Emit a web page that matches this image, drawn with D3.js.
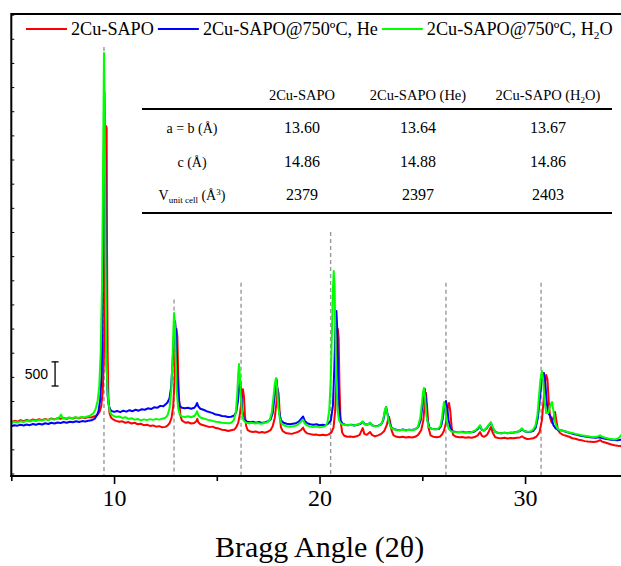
<!DOCTYPE html>
<html>
<head>
<meta charset="utf-8">
<script src="https://cdn.jsdelivr.net/npm/d3@7"></script>
<style>
  html, body { margin: 0; padding: 0; background: #fff; overflow: hidden; }
  svg { display: block; }
</style>
</head>
<body>
<svg id="chart" width="621" height="566"></svg>
<script>
// XRD patterns: [2θ (deg), intensity (counts)]
const seriesNames = ["2Cu-SAPO", "2Cu-SAPO@750ºC, He", "2Cu-SAPO@750ºC, H2O"];
const seriesColors = ["#ff0000", "#0000ff", "#00ff00"];

const redPattern = [
[5.00,1066],[5.15,1090],[5.3,1075],[5.45,1105],[5.6,1085],[5.75,1110],[5.9,1090],[6.05,1120],[6.2,1100],[6.35,1125],[6.5,1105],[6.65,1130],[6.8,1110],[6.95,1140],[7.1,1120],[7.25,1145],[7.4,1135],[7.55,1150],[7.7,1130],[7.85,1155],[8.0,1140],[8.15,1160],[8.3,1140],[8.45,1165],[8.6,1145],[8.75,1170],[8.9,1160],[9.05,1185],[9.2,1220],[9.3,1280],[9.38,1400],[9.45,1700],[9.5,2300],[9.55,3600],[9.58,5200],[9.61,7193],[9.64,7150],[9.66,4500],[9.69,2400],[9.73,1500],[9.78,1250],[9.85,1160],[9.95,1120],[10.1,1090],[10.25,1070],[10.4,1080],[10.55,1050],[10.7,1065],[10.85,1035],[11.0,1050],[11.15,1020],[11.3,1030],[11.45,1000],[11.6,1010],[11.75,985],[11.9,995],[12.05,970],[12.2,980],[12.35,955],[12.5,965],[12.6,990],[12.7,1040],[12.8,1150],[12.88,1400],[12.94,1900],[12.99,2600],[13.04,2991],[13.08,2850],[13.12,2100],[13.17,1500],[13.23,1200],[13.3,1100],[13.4,1070],[13.5,1050],[13.6,1060],[13.75,1035],[13.9,1045],[14.0,1080],[14.05,1130],[14.1,1060],[14.2,1020],[14.35,1000],[14.5,980],[14.65,960],[14.8,970],[14.95,940],[15.1,930],[15.25,905],[15.4,900],[15.55,880],[15.7,895],[15.85,910],[15.95,960],[16.05,1060],[16.13,1250],[16.2,1500],[16.27,1745],[16.32,1600],[16.37,1200],[16.43,980],[16.5,900],[16.6,875],[16.75,860],[16.9,870],[17.05,845],[17.2,860],[17.35,845],[17.5,870],[17.62,900],[17.72,980],[17.82,1150],[17.9,1450],[17.96,1749],[18.01,1650],[18.06,1250],[18.12,960],[18.2,880],[18.35,840],[18.5,830],[18.65,820],[18.8,840],[18.95,860],[19.1,900],[19.2,950],[19.27,880],[19.4,830],[19.55,815],[19.7,800],[19.85,805],[20.0,790],[20.15,800],[20.3,790],[20.45,810],[20.58,850],[20.68,950],[20.76,1300],[20.82,2000],[20.86,2700],[20.89,2991],[20.93,2800],[20.97,1800],[21.02,1100],[21.1,850],[21.2,780],[21.35,760],[21.5,765],[21.65,755],[21.8,770],[21.95,800],[22.1,940],[22.18,820],[22.3,800],[22.46,860],[22.55,800],[22.7,770],[22.85,790],[23.0,820],[23.15,880],[23.27,1000],[23.34,1130],[23.38,1170],[23.43,1080],[23.5,900],[23.6,790],[23.75,760],[23.9,750],[24.05,760],[24.2,745],[24.35,755],[24.5,745],[24.65,760],[24.8,800],[24.95,900],[25.05,1100],[25.12,1450],[25.18,1666],[25.23,1400],[25.3,950],[25.4,790],[25.55,760],[25.7,750],[25.85,760],[25.95,800],[26.05,880],[26.15,1050],[26.23,1350],[26.3,1459],[26.36,1300],[26.43,950],[26.5,800],[26.65,760],[26.8,750],[26.95,755],[27.1,740],[27.25,750],[27.4,740],[27.55,755],[27.7,790],[27.81,859],[27.9,780],[28.0,760],[28.15,800],[28.25,880],[28.34,963],[28.42,850],[28.55,750],[28.7,735],[28.85,730],[29.0,740],[29.15,725],[29.3,735],[29.45,730],[29.6,740],[29.75,745],[29.85,770],[29.95,740],[30.1,715],[30.25,720],[30.4,730],[30.55,760],[30.7,850],[30.82,1100],[30.9,1500],[30.97,1900],[31.03,2039],[31.09,1950],[31.15,1500],[31.22,1150],[31.3,1050],[31.38,1150],[31.46,1273],[31.52,1100],[31.6,900],[31.7,838],[31.85,800],[32.0,780],[32.15,760],[32.3,730],[32.45,720],[32.6,700],[32.75,690],[32.9,670],[33.05,660],[33.2,655],[33.35,650],[33.5,660],[33.65,693],[33.75,660],[33.9,640],[34.05,620],[34.2,600],[34.35,585],[34.5,575],[34.65,570],[34.8,580],[35.0,590]
];

const bluePattern = [
[5.0,983],[5.15,1000],[5.3,990],[5.45,1010],[5.6,995],[5.75,1015],[5.9,1000],[6.05,1025],[6.2,1010],[6.35,1030],[6.5,1015],[6.65,1040],[6.8,1025],[6.95,1050],[7.1,1035],[7.25,1055],[7.4,1045],[7.55,1065],[7.7,1050],[7.85,1070],[8.0,1060],[8.15,1080],[8.3,1065],[8.45,1085],[8.6,1075],[8.75,1090],[8.9,1100],[9.05,1130],[9.15,1190],[9.25,1300],[9.33,1550],[9.4,2100],[9.45,3500],[9.49,6000],[9.53,7900],[9.57,6500],[9.6,4000],[9.64,2200],[9.69,1600],[9.75,1400],[9.82,1320],[9.9,1290],[10.0,1275],[10.15,1295],[10.3,1270],[10.45,1300],[10.6,1280],[10.75,1310],[10.9,1290],[11.05,1320],[11.2,1300],[11.35,1330],[11.5,1320],[11.65,1350],[11.8,1335],[11.95,1370],[12.1,1360],[12.25,1400],[12.4,1390],[12.5,1430],[12.6,1470],[12.7,1560],[12.78,1800],[12.85,2300],[12.92,2900],[12.97,3150],[13.02,2900],[13.07,2200],[13.13,1600],[13.2,1400],[13.3,1360],[13.45,1350],[13.6,1360],[13.75,1340],[13.9,1360],[13.98,1400],[14.04,1460],[14.1,1390],[14.2,1340],[14.35,1320],[14.5,1290],[14.65,1270],[14.8,1250],[14.95,1220],[15.1,1210],[15.25,1190],[15.4,1185],[15.55,1170],[15.7,1175],[15.85,1200],[15.95,1280],[16.03,1500],[16.09,1800],[16.13,1935],[16.18,1700],[16.24,1300],[16.32,1120],[16.45,1075],[16.6,1060],[16.75,1070],[16.9,1050],[17.05,1065],[17.2,1045],[17.35,1060],[17.5,1080],[17.62,1120],[17.72,1250],[17.8,1550],[17.86,1850],[17.91,1950],[17.96,1700],[18.03,1300],[18.12,1100],[18.25,1050],[18.4,1030],[18.55,1020],[18.7,1030],[18.85,1040],[19.0,1080],[19.12,1140],[19.2,1180],[19.28,1090],[19.4,1040],[19.55,1020],[19.7,1010],[19.85,1020],[20.0,1000],[20.15,1010],[20.3,1000],[20.42,1030],[20.55,1100],[20.65,1400],[20.72,2200],[20.77,3000],[20.82,3364],[20.86,3000],[20.9,2100],[20.95,1400],[21.02,1100],[21.12,1030],[21.25,1010],[21.4,1000],[21.55,1010],[21.7,995],[21.85,1010],[22.0,1030],[22.11,1070],[22.2,1020],[22.35,1015],[22.46,1050],[22.55,1000],[22.7,980],[22.85,990],[23.0,1020],[23.1,1100],[23.18,1280],[23.24,1377],[23.3,1250],[23.38,1100],[23.48,960],[23.6,920],[23.75,905],[23.9,895],[24.05,910],[24.2,895],[24.35,905],[24.5,900],[24.65,915],[24.8,960],[24.92,1100],[25.02,1450],[25.08,1700],[25.12,1749],[25.17,1550],[25.25,1100],[25.35,950],[25.5,920],[25.65,915],[25.8,920],[25.92,980],[26.0,1150],[26.08,1400],[26.15,1501],[26.2,1400],[26.28,1100],[26.38,920],[26.5,870],[26.65,860],[26.8,855],[26.95,865],[27.1,850],[27.25,860],[27.4,855],[27.55,870],[27.7,920],[27.81,983],[27.9,900],[28.0,890],[28.12,930],[28.22,990],[28.34,1045],[28.42,950],[28.55,860],[28.7,840],[28.85,835],[29.0,845],[29.15,835],[29.3,845],[29.45,850],[29.6,860],[29.75,880],[29.85,921],[29.95,880],[30.1,860],[30.25,865],[30.4,880],[30.52,950],[30.62,1150],[30.72,1550],[30.8,1900],[30.87,2060],[30.92,2080],[30.98,1900],[31.05,1500],[31.12,1250],[31.2,1211],[31.28,1150],[31.38,1000],[31.5,930],[31.65,900],[31.8,890],[31.95,870],[32.1,850],[32.25,830],[32.4,810],[32.55,800],[32.7,780],[32.85,770],[33.0,760],[33.15,750],[33.3,745],[33.45,740],[33.6,750],[33.75,735],[33.9,720],[34.05,710],[34.2,700],[34.35,695],[34.5,690],[34.65,700],[34.8,710],[35.0,720]
];

const greenPattern = [
[5.0,1045],[5.15,1070],[5.3,1055],[5.45,1080],[5.6,1065],[5.75,1090],[5.9,1075],[6.05,1100],[6.2,1085],[6.35,1110],[6.5,1095],[6.65,1120],[6.8,1105],[6.95,1130],[7.1,1115],[7.25,1140],[7.35,1170],[7.42,1220],[7.5,1150],[7.65,1140],[7.8,1160],[7.95,1145],[8.1,1165],[8.25,1150],[8.4,1170],[8.55,1160],[8.7,1180],[8.85,1200],[9.0,1250],[9.1,1330],[9.2,1500],[9.28,1800],[9.35,2500],[9.41,3800],[9.46,6000],[9.51,8704],[9.55,7200],[9.58,4800],[9.62,2700],[9.67,1800],[9.73,1450],[9.8,1280],[9.88,1220],[9.98,1190],[10.1,1170],[10.25,1180],[10.4,1150],[10.55,1165],[10.7,1130],[10.85,1145],[11.0,1115],[11.15,1130],[11.3,1100],[11.45,1120],[11.6,1105],[11.75,1125],[11.9,1110],[12.05,1130],[12.2,1115],[12.35,1135],[12.48,1150],[12.6,1200],[12.7,1350],[12.78,1700],[12.84,2300],[12.89,3000],[12.92,3322],[12.96,3100],[13.0,2400],[13.05,1700],[13.12,1350],[13.2,1210],[13.3,1180],[13.45,1170],[13.6,1185],[13.75,1165],[13.9,1190],[13.98,1230],[14.04,1290],[14.1,1210],[14.2,1160],[14.35,1140],[14.5,1120],[14.65,1100],[14.8,1090],[14.95,1070],[15.1,1065],[15.25,1050],[15.4,1045],[15.55,1040],[15.7,1050],[15.82,1100],[15.92,1250],[15.99,1600],[16.04,2050],[16.08,2267],[16.12,2050],[16.17,1600],[16.23,1250],[16.3,1100],[16.42,1050],[16.55,1040],[16.7,1050],[16.85,1035],[17.0,1045],[17.15,1030],[17.3,1045],[17.45,1060],[17.57,1100],[17.67,1250],[17.75,1550],[17.82,1850],[17.88,1977],[17.93,1800],[17.99,1400],[18.06,1150],[18.15,1030],[18.3,990],[18.45,975],[18.6,970],[18.75,980],[18.9,1000],[19.05,1050],[19.15,1100],[19.2,1110],[19.27,1040],[19.4,990],[19.55,970],[19.7,960],[19.85,970],[20.0,955],[20.15,965],[20.28,980],[20.38,1050],[20.47,1300],[20.54,1900],[20.6,2900],[20.65,3800],[20.69,4192],[20.73,3900],[20.77,2900],[20.82,1900],[20.88,1300],[20.95,1100],[21.05,1030],[21.2,1010],[21.35,1000],[21.5,1010],[21.65,995],[21.8,1010],[21.95,1030],[22.05,1060],[22.11,1080],[22.18,1020],[22.3,1010],[22.4,1030],[22.46,1050],[22.55,1000],[22.7,975],[22.85,985],[23.0,1020],[23.1,1120],[23.17,1300],[23.23,1377],[23.29,1250],[23.37,1080],[23.47,950],[23.6,915],[23.75,900],[23.9,895],[24.05,905],[24.2,890],[24.35,905],[24.5,895],[24.65,915],[24.78,960],[24.9,1150],[24.98,1450],[25.04,1700],[25.08,1770],[25.13,1600],[25.2,1200],[25.3,970],[25.45,925],[25.6,915],[25.75,920],[25.88,980],[25.96,1150],[26.02,1380],[26.06,1480],[26.11,1380],[26.18,1100],[26.28,930],[26.4,875],[26.55,860],[26.7,855],[26.85,865],[27.0,850],[27.15,860],[27.3,850],[27.45,865],[27.6,900],[27.72,950],[27.81,1000],[27.9,910],[28.0,890],[28.12,940],[28.24,1010],[28.34,1066],[28.42,960],[28.55,860],[28.7,840],[28.85,835],[29.0,845],[29.15,835],[29.3,845],[29.45,850],[29.6,860],[29.72,880],[29.85,935],[29.95,880],[30.1,865],[30.25,870],[30.38,900],[30.5,980],[30.6,1200],[30.68,1600],[30.75,1950],[30.82,2122],[30.88,1950],[30.95,1500],[31.03,1250],[31.12,1250],[31.22,1400],[31.31,1480],[31.38,1300],[31.47,1050],[31.58,930],[31.7,900],[31.85,880],[32.0,870],[32.15,850],[32.3,840],[32.45,820],[32.6,810],[32.75,790],[32.9,780],[33.05,770],[33.2,760],[33.35,755],[33.5,760],[33.65,790],[33.75,760],[33.9,740],[34.05,725],[34.2,715],[34.35,705],[34.5,720],[34.62,760],[34.72,820],[34.85,760],[35.0,730]
];

// Reference reflections (2θ) and the intensity each marker line reaches up to
const refAngles = [9.51, 12.92, 16.18, 20.54, 26.15, 30.78];
const refTops   = [8830, 3600, 3950, 5000, 3950, 3950];

const xMajorTicks = [10, 20, 30];
const xMinorTicks = [5, 15, 25, 35];
const scaleBarCounts = 500;
const scaleBarAt = [7.13, 1811];

// Lattice parameter table
const tableHeaders = ["2Cu-SAPO", "2Cu-SAPO (He)", "2Cu-SAPO (H2O)"];
const rowAB = ["13.60", "13.64", "13.67"];
const rowC  = ["14.86", "14.88", "14.86"];
const rowV  = ["2379", "2397", "2403"];

const serif = "'Liberation Serif','Times New Roman',Times,serif";
const sans = "'Liberation Sans',Arial,Helvetica,sans-serif";

const svg = d3.select("#chart");
svg.append("rect").attr("width", 621).attr("height", 566).attr("fill", "#fff");

const plot = { left: 11.3, right: 627.8, top: 14, bottom: 476 };
const x = d3.scaleLinear().domain([5, 35]).range([plot.left, plot.right]);
const y = d3.scaleLinear().domain([-52, 9513]).range([plot.bottom, plot.top]);

svg.append("clipPath").attr("id", "plotClip")
  .append("rect")
  .attr("x", plot.left).attr("y", plot.top)
  .attr("width", plot.right - plot.left).attr("height", plot.bottom - plot.top);

// dashed reflection markers
svg.append("g").attr("clip-path", "url(#plotClip)")
  .selectAll("line").data(refAngles).join("line")
  .attr("x1", d => x(d)).attr("x2", d => x(d))
  .attr("y1", (d, i) => y(refTops[i])).attr("y2", plot.bottom)
  .attr("stroke", "#999").attr("stroke-width", 1.4).attr("stroke-dasharray", "4,3");

// diffraction patterns
const line = d3.line().x(d => x(d[0])).y(d => y(d[1]));
const patterns = [redPattern, bluePattern, greenPattern];
svg.append("g").attr("clip-path", "url(#plotClip)")
  .selectAll("path").data(patterns).join("path")
  .attr("d", line)
  .attr("fill", "none")
  .attr("stroke", (d, i) => seriesColors[i])
  .attr("stroke-width", 2)
  .attr("stroke-linejoin", "round");

// frame
const frame = svg.append("g").attr("stroke", "#000").attr("stroke-width", 2);
frame.append("line").attr("x1", plot.left).attr("x2", plot.left).attr("y1", plot.top - 1).attr("y2", plot.bottom + 1);
frame.append("line").attr("x1", plot.left).attr("x2", plot.right).attr("y1", plot.top).attr("y2", plot.top);
frame.append("line").attr("x1", plot.right).attr("x2", plot.right).attr("y1", plot.top).attr("y2", plot.bottom);
frame.append("line").attr("x1", plot.left - 1).attr("x2", plot.right).attr("y1", plot.bottom).attr("y2", plot.bottom);

// bottom axis
const xAxis = svg.append("g").attr("transform", `translate(0,${plot.bottom})`)
  .call(d3.axisBottom(x).tickValues(xMajorTicks).tickSize(8).tickPadding(5).tickFormat(d3.format("d")));
xAxis.select(".domain").remove();
xAxis.selectAll("line").attr("stroke-width", 1.6);
xAxis.selectAll("text").attr("font-family", serif).attr("font-size", 24).attr("fill", "#000");

const xMinor = svg.append("g").attr("transform", `translate(0,${plot.bottom})`)
  .call(d3.axisBottom(x).tickValues(xMinorTicks).tickSize(5).tickFormat(""));
xMinor.select(".domain").remove();
xMinor.selectAll("line").attr("stroke-width", 1.6);

// left axis: inward ticks every 500 counts, unlabeled
const yAxis = svg.append("g").attr("transform", `translate(${plot.left},0)`)
  .call(d3.axisLeft(y).tickValues(d3.range(0, 9501, scaleBarCounts)).tickSize(-3).tickFormat(""));
yAxis.select(".domain").remove();
yAxis.selectAll("line").attr("stroke-width", 1);

// intensity scale bar
const sb = svg.append("g");
const sbx = x(scaleBarAt[0]);
const sbTop = y(scaleBarAt[1] + scaleBarCounts), sbBot = y(scaleBarAt[1]);
sb.append("line").attr("x1", sbx).attr("x2", sbx).attr("y1", sbTop).attr("y2", sbBot).attr("stroke", "#000").attr("stroke-width", 1.3);
sb.append("line").attr("x1", sbx - 3.5).attr("x2", sbx + 3.5).attr("y1", sbTop).attr("y2", sbTop).attr("stroke", "#000").attr("stroke-width", 1.3);
sb.append("line").attr("x1", sbx - 3.5).attr("x2", sbx + 3.5).attr("y1", sbBot).attr("y2", sbBot).attr("stroke", "#000").attr("stroke-width", 1.3);
sb.append("text").attr("x", sbx - 7).attr("y", (sbTop + sbBot) / 2 + 5)
  .attr("text-anchor", "end").attr("font-family", sans).attr("font-size", 14).text(String(scaleBarCounts));

// axis title
svg.append("text").attr("x", (plot.left + plot.right) / 2).attr("y", 557)
  .attr("text-anchor", "middle").attr("font-family", serif).attr("font-size", 30)
  .text("Bragg Angle (2θ)");

// helper: write a label with "H2O" subscript
function writeLabel(sel, label, size) {
  const m = label.match(/^(.*H)2(O.*)$/);
  if (!m) { sel.text(label); return; }
  sel.append("tspan").text(m[1]);
  sel.append("tspan").attr("font-size", size * 0.62).attr("dy", size * 0.22).text("2");
  sel.append("tspan").attr("dy", -size * 0.22).text(m[2]);
}

// legend
const legend = svg.append("g").attr("font-family", serif).attr("font-size", 18.2);
let lx = 26;
const ly = 29;
seriesNames.forEach((name, i) => {
  legend.append("line").attr("x1", lx).attr("x2", lx + 41).attr("y1", ly).attr("y2", ly)
    .attr("stroke", seriesColors[i]).attr("stroke-width", 2);
  const t = legend.append("text").attr("x", lx + 45).attr("y", ly + 6);
  writeLabel(t, name, 18.2);
  lx = lx + 45 + t.node().getComputedTextLength() + 4;
});

// lattice parameter table
const table = svg.append("g").attr("font-family", serif).attr("fill", "#000");
const colX = [192, 302, 418, 548];
const rowY = [133, 167, 200];
tableHeaders.forEach((h, i) => {
  const t = table.append("text").attr("x", colX[i + 1]).attr("y", 100)
    .attr("text-anchor", "middle").attr("font-size", 14.5);
  writeLabel(t, h, 14.5);
});
table.append("line").attr("x1", 142).attr("x2", 612).attr("y1", 109).attr("y2", 109).attr("stroke", "#000").attr("stroke-width", 2);
table.append("line").attr("x1", 142).attr("x2", 612).attr("y1", 213).attr("y2", 213).attr("stroke", "#000").attr("stroke-width", 2);

table.append("text").attr("x", colX[0]).attr("y", rowY[0]).attr("text-anchor", "middle").attr("font-size", 14).text("a = b (Å)");
table.append("text").attr("x", colX[0]).attr("y", rowY[1]).attr("text-anchor", "middle").attr("font-size", 14).text("c (Å)");
const vt = table.append("text").attr("x", colX[0]).attr("y", rowY[2]).attr("text-anchor", "middle").attr("font-size", 14);
vt.append("tspan").text("V");
vt.append("tspan").attr("font-size", 9).attr("dy", 3).text("unit cell");
vt.append("tspan").attr("dy", -3).text(" (Å");
vt.append("tspan").attr("font-size", 9).attr("dy", -5).text("3");
vt.append("tspan").attr("dy", 5).text(")");

[rowAB, rowC, rowV].forEach((row, r) => {
  row.forEach((v, i) => {
    table.append("text").attr("x", colX[i + 1]).attr("y", rowY[r])
      .attr("text-anchor", "middle").attr("font-size", 16).text(v);
  });
});
</script>
</body>
</html>
